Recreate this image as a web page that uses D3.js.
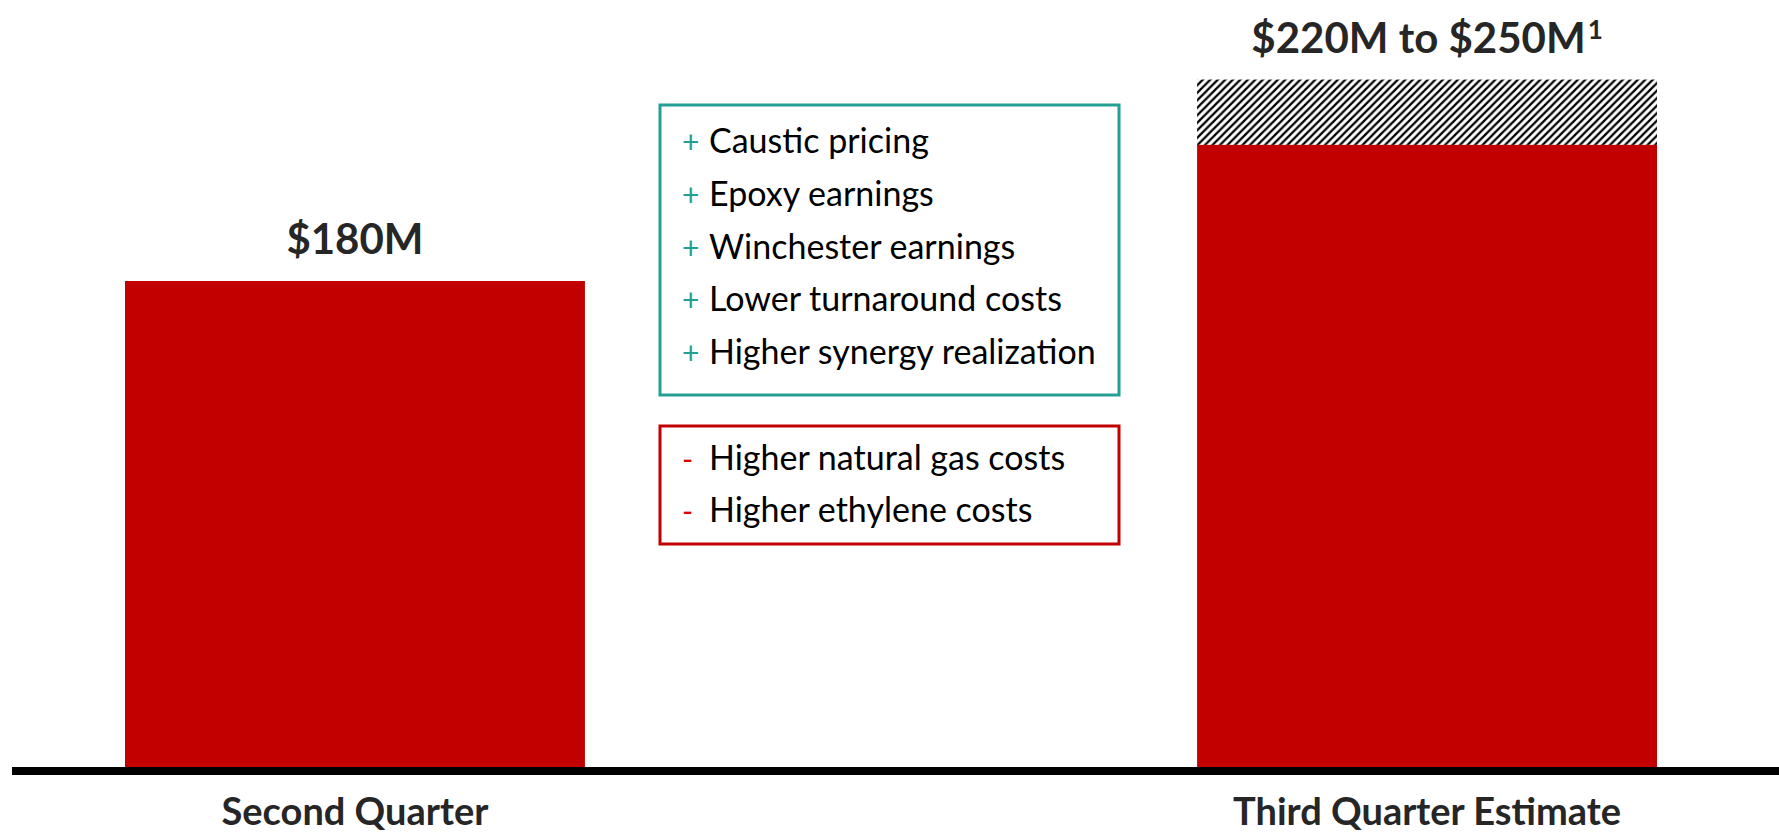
<!DOCTYPE html>
<html>
<head>
<meta charset="utf-8">
<script src="https://cdn.jsdelivr.net/npm/d3@7"></script>
<style>
  html, body { margin: 0; padding: 0; background: #fff; }
  svg { display: block; }
</style>
</head>
<body>
<svg id="chart" width="1779" height="834"></svg>
<script>
// ---- data ----
const categories = ["Second Quarter", "Third Quarter Estimate"];
const barValues = [180, 230];          // drawn red bar heights
const rangeHigh = [null, 254];         // hatched estimate range top (as drawn)
const valueLabels = ["$180M", "$220M to $250M"];
const labelSuperscripts = ["", "1"];
const positives = ["Caustic pricing", "Epoxy earnings", "Winchester earnings", "Lower turnaround costs", "Higher synergy realization"];
const negatives = ["Higher natural gas costs", "Higher ethylene costs"];

// ---- layout ----
const W = 1779, H = 834;
const baseY = 771;
const svg = d3.select("#chart");
svg.append("rect").attr("width", W).attr("height", H).attr("fill", "#fff");

const x = d3.scaleBand().domain(categories).range([125, 1657]).paddingInner(0.571).paddingOuter(0);
const y = d3.scaleLinear().domain([0, 180]).range([baseY, 281]);

const red = "#C20000";
const teal = "#23A093";
const textDark = "#262626";
const font = "Lato, 'Open Sans', sans-serif";

// hatch pattern
const defs = svg.append("defs");
const pat = defs.append("pattern").attr("id", "hatch").attr("patternUnits", "userSpaceOnUse")
  .attr("width", 7.5).attr("height", 7.5);
pat.append("rect").attr("width", 7.5).attr("height", 7.5).attr("fill", "#fff");
pat.append("path").attr("d", "M-1,1 L1,-1 M0,7.5 L7.5,0 M6.5,8.5 L8.5,6.5")
  .attr("stroke", "#000").attr("stroke-width", 2.2);

const data = categories.map((c, i) => ({ c, v: barValues[i], hi: rangeHigh[i], label: valueLabels[i], sup: labelSuperscripts[i] }));

// hatched range
svg.selectAll("rect.hatch").data(data.filter(d => d.hi != null)).join("rect")
  .attr("class", "hatch")
  .attr("x", d => x(d.c)).attr("width", x.bandwidth())
  .attr("y", d => y(d.hi)).attr("height", d => y(d.v) - y(d.hi))
  .attr("fill", "url(#hatch)");

// bars
svg.selectAll("rect.bar").data(data).join("rect")
  .attr("class", "bar")
  .attr("x", d => x(d.c)).attr("width", x.bandwidth())
  .attr("y", d => y(d.v)).attr("height", d => baseY + 3 - y(d.v))
  .attr("fill", red);

// baseline
svg.append("rect").attr("x", 12).attr("width", W - 12).attr("y", baseY - 4).attr("height", 8).attr("fill", "#000");

// value labels
data.forEach(d => {
  const top = y(d.hi != null ? d.hi : d.v);
  const t = svg.append("text")
    .attr("x", x(d.c) + x.bandwidth() / 2)
    .attr("y", top - 27)
    .attr("text-anchor", "middle")
    .attr("font-family", font).attr("font-weight", 700).attr("font-size", 42)
    .attr("fill", textDark);
  t.append("tspan").text(d.label);
  if (d.sup) t.append("tspan").attr("font-size", 26).attr("dy", -14).attr("dx", 2).text(d.sup);
});

// category labels (axis)
const xAxis = d3.axisBottom(x).tickSize(0).tickPadding(0);
const gx = svg.append("g").attr("transform", `translate(0,${825})`).call(xAxis);
gx.select(".domain").remove();
gx.selectAll("text")
  .attr("dy", 0)
  .attr("font-family", font).attr("font-weight", 700).attr("font-size", 38)
  .attr("fill", textDark);

// driver boxes
function box(items, sym, color, x0, y0, w, h, firstBase, step) {
  svg.append("rect").attr("x", x0).attr("y", y0).attr("width", w).attr("height", h)
    .attr("fill", "#fff").attr("stroke", color).attr("stroke-width", 3);
  const g = svg.append("g");
  items.forEach((s, i) => {
    const by = firstBase + i * step;
    g.append("text").attr("x", 682).attr("y", by)
      .attr("font-family", font).attr("font-size", 30).attr("fill", sym === "+" ? color : "#E00000")
      .text(sym);
    g.append("text").attr("x", 709).attr("y", by)
      .attr("font-family", font).attr("font-size", 34).attr("fill", "#000")
      .text(s);
  });
}
box(positives, "+", teal, 660, 105, 459, 290, 153, 52.75);
box(negatives, "-", red, 660, 426, 459, 118, 470, 52);
</script>
</body>
</html>
